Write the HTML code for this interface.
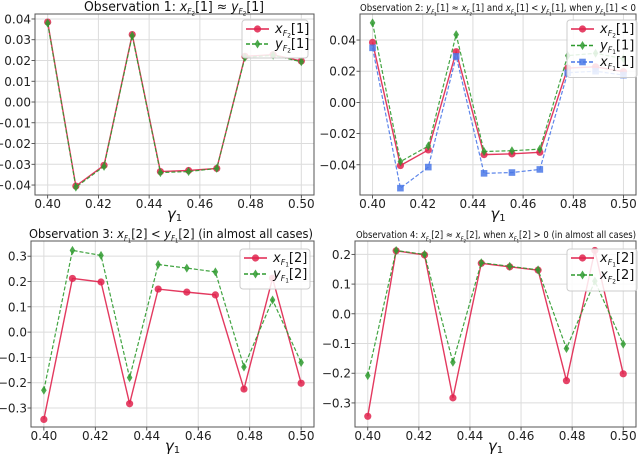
<!DOCTYPE html>
<html><head><meta charset="utf-8">
<style>
html,body{margin:0;padding:0;background:#fff;}
svg{display:block;font-family:"DejaVu Sans","Liberation Sans",sans-serif;}
</style></head>
<body>
<svg id="fig" width="640" height="454" viewBox="0 0 640 454"></svg>
<script>
const gammaValues = [0.4, 0.41111, 0.42222, 0.43333, 0.44444, 0.45556, 0.46667, 0.47778, 0.48889, 0.5];
const xTickLabels = ["0.40","0.42","0.44","0.46","0.48","0.50"];
const xTickValues = [0.40,0.42,0.44,0.46,0.48,0.50];

const p1_xF2_1 = [0.0385,-0.0405,-0.0305,0.0325,-0.0335,-0.033,-0.032,0.022,0.0228,0.0197];
const p1_yF2_1 = [0.038,-0.041,-0.031,0.032,-0.034,-0.0335,-0.032,0.0215,0.0225,0.0194];
const p1_yTicks = [0.04,0.03,0.02,0.01,0.00,-0.01,-0.02,-0.03,-0.04];
const p1_yTickLabels = ["0.04","0.03","0.02","0.01","0.00","\u22120.01","\u22120.02","\u22120.03","\u22120.04"];

const p2_xF2_1 = [0.0385,-0.0405,-0.0305,0.0325,-0.0335,-0.033,-0.032,0.022,0.0228,0.0197];
const p2_yF1_1 = [0.051,-0.038,-0.028,0.0435,-0.0315,-0.031,-0.030,0.030,0.0315,0.028];
const p2_xF1_1 = [0.035,-0.055,-0.0415,0.0295,-0.0455,-0.045,-0.043,0.019,0.020,0.0175];
const p2_yTicks = [0.04,0.02,0.00,-0.02,-0.04];
const p2_yTickLabels = ["0.04","0.02","0.00","\u22120.02","\u22120.04"];

const p3_xF1_2 = [-0.345,0.212,0.198,-0.283,0.170,0.158,0.147,-0.225,0.213,-0.202];
const p3_yF1_2 = [-0.23,0.323,0.303,-0.18,0.267,0.253,0.238,-0.138,0.127,-0.12];
const p3_yTicks = [0.3,0.2,0.1,0.0,-0.1,-0.2,-0.3];
const p3_yTickLabels = ["0.3","0.2","0.1","0.0","\u22120.1","\u22120.2","\u22120.3"];

const p4_xF1_2 = [-0.345,0.212,0.198,-0.283,0.170,0.158,0.147,-0.225,0.213,-0.202];
const p4_xF2_2 = [-0.208,0.213,0.200,-0.163,0.172,0.160,0.148,-0.117,0.110,-0.102];
const p4_yTicks = [0.2,0.1,0.0,-0.1,-0.2,-0.3];
const p4_yTickLabels = ["0.2","0.1","0.0","\u22120.1","\u22120.2","\u22120.3"];

const NS="http://www.w3.org/2000/svg";
const fig=document.getElementById('fig');
function mk(tag,attrs,parent){const e=document.createElementNS(NS,tag);for(const k in attrs)e.setAttribute(k,attrs[k]);(parent||fig).appendChild(e);return e;}

const RED="#e0234e", GREEN="#2e9a2e", BLUE="#4a78e8";

function marker(g,type,cx,cy,color){
  let m;
  if(type==='o'){m=mk('circle',{cx:cx,cy:cy,r:3.6,fill:color,'fill-opacity':0.85},g);}
  else if(type==='d'){m=mk('polygon',{points:`${cx},${cy-4.5} ${cx+2.8},${cy} ${cx},${cy+4.5} ${cx-2.8},${cy}`,fill:color,'fill-opacity':0.85},g);}
  else {m=mk('rect',{x:cx-3.3,y:cy-3.3,width:6.6,height:6.6,fill:color,'fill-opacity':0.85},g);}
  
  
}

function panel(cfg){
  const g=mk('g',{});
  
  
  const L=cfg.box[0],T=cfg.box[1],R=cfg.box[2],B=cfg.box[3];
  const sx=v=>L+(v-0.395)/(0.505-0.395)*(R-L);
  const sy=v=>T+(cfg.ylim[1]-v)/(cfg.ylim[1]-cfg.ylim[0])*(B-T);
  xTickValues.forEach((v,i)=>{
    const x=sx(v);
    const gl=mk('line',{x1:x,x2:x,y1:T,y2:B,stroke:'#dcdcdc','stroke-width':1},g);
    
    mk('line',{x1:x,x2:x,y1:B,y2:B+3.5,stroke:'#333','stroke-width':0.8},g);
    const t=mk('text',{x:x,y:B+13,'font-size':12,'text-anchor':'middle',fill:'#222'},g);
    t.textContent=xTickLabels[i];
    
  });
  cfg.yTicks.forEach((v,i)=>{
    const y=sy(v);
    const gl=mk('line',{x1:L,x2:R,y1:y,y2:y,stroke:'#dcdcdc','stroke-width':1},g);
    
    mk('line',{x1:L-3.5,x2:L,y1:y,y2:y,stroke:'#333','stroke-width':0.8},g);
    const t=mk('text',{x:L-4,y:y+4.5,'font-size':12,'text-anchor':'end',fill:'#222'},g);
    t.textContent=cfg.yTickLabels[i];
    
  });
  cfg.series.forEach(s=>{
    const pts=gammaValues.map((x,i)=>sx(x)+','+sy(s.data[i])).join(' ');
    const pl=mk('polyline',{points:pts,fill:'none',stroke:s.color,'stroke-width':s.dash?1.2:1.4,'stroke-dasharray':s.dash?'4,2':'none','stroke-opacity':0.9},g);
    
    gammaValues.forEach((x,i)=>marker(g,s.m,sx(x),sy(s.data[i]),s.color));
  });
  const fr=mk('rect',{x:L,y:T,width:R-L,height:B-T,fill:'none',stroke:'#555','stroke-width':1},g);
  
  const tt=mk('text',{x:cfg.title[0],y:T-3,'font-size':cfg.tsize,'text-anchor':'start',fill:'#111',textLength:cfg.title[1],lengthAdjust:'spacingAndGlyphs'},g);
  tt.innerHTML=cfg.title[2];
  
  const xl=mk('text',{x:(L+R)/2,y:B+24,'font-size':15,'font-style':'italic','text-anchor':'middle',fill:'#111'},g);
  xl.innerHTML='γ<tspan font-style="normal" font-size="10" dy="2">1</tspan>';
  
  const lg=mk('g',{},g);
  
  const lx=cfg.legend[0], ly=cfg.legend[1], lw=cfg.legend[2], sp=cfg.legend[3];
  const lh=8+cfg.series.length*sp;
  mk('rect',{x:lx,y:ly,width:lw,height:lh,rx:3,fill:'#fff','fill-opacity':0.85,stroke:'#ccc','stroke-width':1},lg);
  cfg.series.forEach((s,i)=>{
    const yy=ly+9+i*sp;
    const e=mk('g',{},lg);
    
    mk('line',{x1:lx+4,x2:lx+27,y1:yy,y2:yy,stroke:s.color,'stroke-width':1.4,'stroke-dasharray':s.dash?'4,2':'none'},e);
    marker(e,s.m,lx+15.5,yy,s.color);
    const t=mk('text',{x:lx+33,y:yy+4,'font-size':13,fill:'#111'},e);
    t.innerHTML=s.label;
  });
}
function lab(v,sub,idx){return `<tspan font-style="italic">${v}</tspan><tspan font-size="0.6em" dy="3" font-style="italic">F</tspan><tspan font-size="0.45em" dy="1.5">${sub}</tspan><tspan dy="-4.5">[${idx}]</tspan>`;}

panel({name:'panel-observation-1',box:[35,14,314,195],ylim:[-0.0448,0.0424],
  yTicks:p1_yTicks,yTickLabels:p1_yTickLabels,tsize:13,
  title:[84,180,'Observation 1: '+lab('x',2,1)+' ≈ '+lab('y',2,1)],
  legend:[242,20,66,15],
  series:[{name:'xF2-1',data:p1_xF2_1,color:RED,m:'o',dash:false,label:lab('x',2,1)},
          {name:'yF2-1',data:p1_yF2_1,color:GREEN,m:'d',dash:true,label:lab('y',2,1)}]});
panel({name:'panel-observation-2',box:[360,14,636,195],ylim:[-0.0594,0.0567],
  yTicks:p2_yTicks,yTickLabels:p2_yTickLabels,tsize:9.5,
  title:[360,276,'Observation 2: '+lab('y',1,1)+' ≈ '+lab('x',2,1)+' and '+lab('x',1,1)+' &lt; '+lab('y',1,1)+', when '+lab('y',1,1)+' &lt; 0'],
  legend:[567,20,70,16.5],
  series:[{name:'xF2-1',data:p2_xF2_1,color:RED,m:'o',dash:false,label:lab('x',2,1)},
          {name:'yF1-1',data:p2_yF1_1,color:GREEN,m:'d',dash:true,label:lab('y',1,1)},
          {name:'xF1-1',data:p2_xF1_1,color:BLUE,m:'s',dash:true,label:lab('x',1,1)}]});
panel({name:'panel-observation-3',box:[31,241,314,427],ylim:[-0.375,0.36],
  yTicks:p3_yTicks,yTickLabels:p3_yTickLabels,tsize:12.5,
  title:[29,284,'Observation 3: '+lab('x',1,2)+' &lt; '+lab('y',1,2)+' (in almost all cases)'],
  legend:[240,249,70,16],
  series:[{name:'xF1-2',data:p3_xF1_2,color:RED,m:'o',dash:false,label:lab('x',1,2)},
          {name:'yF1-2',data:p3_yF1_2,color:GREEN,m:'d',dash:true,label:lab('y',1,2)}]});
panel({name:'panel-observation-4',box:[355,241,636,427],ylim:[-0.381,0.245],
  yTicks:p4_yTicks,yTickLabels:p4_yTickLabels,tsize:9.5,
  title:[356,280,'Observation 4: '+lab('x',1,2)+' ≈ '+lab('x',2,2)+', when '+lab('x',1,2)+' &gt; 0 (in almost all cases)'],
  legend:[567,249,70,17],
  series:[{name:'xF1-2',data:p4_xF1_2,color:RED,m:'o',dash:false,label:lab('x',1,2)},
          {name:'xF2-2',data:p4_xF2_2,color:GREEN,m:'d',dash:true,label:lab('x',2,2)}]});
</script>
</body></html>
